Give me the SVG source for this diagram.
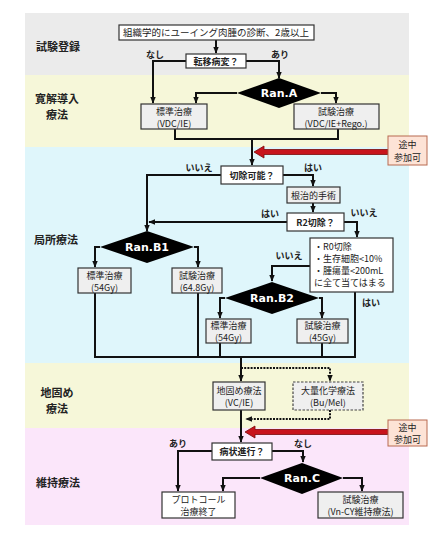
<svg xmlns="http://www.w3.org/2000/svg" width="436" height="539" viewBox="0 0 436 539">
<defs>
<style>
text{font-family:"Noto Sans CJK JP","Liberation Sans",sans-serif;fill:#222;}
.t{font-size:9px;text-anchor:middle;}
.tl{font-size:9px;text-anchor:start;}
.b{font-size:9px;font-weight:bold;text-anchor:middle;}
.lab{font-size:11px;font-weight:bold;text-anchor:middle;}
.ran{font-size:11px;font-weight:bold;fill:#fff;text-anchor:middle;font-family:"DejaVu Sans","Noto Sans CJK JP",sans-serif;}
.bx{fill:#fff;stroke:#333;stroke-width:1.2;}
.gb{fill:#efefef;stroke:#333;stroke-width:1.2;}
.db{fill:#efefef;stroke:#444;stroke-width:1.2;stroke-dasharray:2.5 1.5;}
.dia{fill:#000;}
.c{fill:none;stroke:#111;stroke-width:2;}
.ca{fill:none;stroke:#111;stroke-width:2;marker-end:url(#ah);}
.da{fill:none;stroke:#111;stroke-width:2;stroke-dasharray:2 1.2;marker-end:url(#ah);}
.red{fill:#c8141c;stroke:#7a0a0a;stroke-width:0.8;}
.jb{fill:#fde3d6;stroke:#b86a50;stroke-width:1;}
</style>
<marker id="ah" viewBox="0 0 10 10" refX="9" refY="5" markerUnits="userSpaceOnUse" markerWidth="7" markerHeight="7" orient="auto">
<path d="M0,1 L10,5 L0,9 z" fill="#111"/>
</marker>
</defs>

<g id="bands">
<rect x="25" y="13" width="384" height="62" fill="#ebebeb"/>
<rect x="25" y="75" width="384" height="72" fill="#f6f7d9"/>
<rect x="25" y="147" width="384" height="216" fill="#dff6fb"/>
<rect x="25" y="363" width="384" height="65" fill="#f6f7d9"/>
<rect x="25" y="428" width="384" height="97" fill="#fbe6fa"/>
<text class="lab" x="58" y="51">試験登録</text>
<text class="lab" x="57" y="103">寛解導入</text>
<text class="lab" x="57" y="119">療法</text>
<text class="lab" x="56" y="244">局所療法</text>
<text class="lab" x="57" y="397">地固め</text>
<text class="lab" x="57" y="413">療法</text>
<text class="lab" x="58" y="487">維持療法</text>
</g>

<g id="connectors">
<path class="ca" d="M216,40 V53"/>
<path class="ca" d="M186,61 H153 V103"/>
<path class="ca" d="M246,61 H279 V78"/>
<path class="ca" d="M237,93 H196 V103"/>
<path class="ca" d="M321,93 H336 V103"/>
<path class="c" d="M175,129 V139 H338 V129"/>
<path class="ca" d="M252,139 V165"/>
<path class="ca" d="M221,175 H147 V231"/>
<path class="ca" d="M283,175 H313 V186"/>
<path class="ca" d="M313,203 V212"/>
<path class="ca" d="M287,222 H149"/>
<path class="ca" d="M344,222 H357 V237"/>
<path class="ca" d="M100,247 H95 V267"/>
<path class="ca" d="M194,247 H198 V267"/>
<path class="c" d="M95,293 V357 H355 V292"/>
<path class="c" d="M198,293 V357"/>
<path class="ca" d="M310,266 H272 V281"/>
<path class="ca" d="M225,298 H220 V318"/>
<path class="ca" d="M319,298 H322 V318"/>
<path class="c" d="M220,343 V357"/>
<path class="c" d="M322,343 V357"/>
<path class="ca" d="M241,357 V381"/>
<path class="da" d="M241,368 H330 V381"/>
<path class="ca" d="M241,410 V442"/>
<path class="da" d="M330,410 V419 H246"/>
<path class="ca" d="M212,451 H178 V491"/>
<path class="ca" d="M272,451 H303 V462"/>
<path class="ca" d="M260,478 H223 V491"/>
<path class="ca" d="M343,478 H362 V491"/>
<polygon class="red" points="388,149.5 264,149.5 264,146 254,152 264,158 264,154.5 388,154.5"/>
<polygon class="red" points="388,429.5 255,429.5 255,426 245,432 255,438 255,434.5 388,434.5"/>
<text class="b" x="155" y="58">なし</text>
<text class="b" x="280" y="58">あり</text>
<text class="b" x="199" y="171">いいえ</text>
<text class="b" x="313" y="171">はい</text>
<text class="b" x="270" y="217">はい</text>
<text class="b" x="364" y="216">いいえ</text>
<text class="b" x="289" y="259">いいえ</text>
<text class="b" x="371" y="306">はい</text>
<text class="b" x="178" y="447">あり</text>
<text class="b" x="303" y="447">なし</text>
</g>

<g id="n_entry">
<rect class="bx" x="119" y="25" width="195" height="15"/>
<text class="t" x="216" y="36" style="font-size:9.5px">組織学的にユーイング肉腫の診断、2歳以上</text>
</g>
<g id="n_meta">
<rect class="bx" x="186" y="54" width="60" height="14"/>
<text class="b" x="216" y="64.5">転移病変？</text>
</g>
<g id="n_ranA">
<polygon class="dia" points="279,78 321,93 279,108 237,93"/>
<text class="ran" x="279" y="97">Ran.A</text>
</g>
<g id="n_indStd">
<rect class="gb" x="141" y="104" width="66" height="25"/>
<text class="t" x="174" y="114.5">標準治療</text>
<text class="t" x="174" y="126.5">(VDC/IE)</text>
</g>
<g id="n_indExp">
<rect class="gb" x="294" y="104" width="85" height="25"/>
<text class="t" x="336" y="114.5">試験治療</text>
<text class="t" x="336" y="126.5">(VDC/IE+Rego.)</text>
</g>
<g id="n_join1">
<rect class="jb" x="388" y="136" width="39" height="29"/>
<text class="t" x="407.5" y="148">途中</text>
<text class="t" x="407.5" y="160.5">参加可</text>
</g>
<g id="n_resect">
<rect class="bx" x="221" y="166" width="62" height="18"/>
<text class="b" x="252" y="178.5">切除可能？</text>
</g>
<g id="n_surg">
<rect class="gb" x="287" y="187" width="53" height="16"/>
<text class="t" x="313.5" y="198.5">根治的手術</text>
</g>
<g id="n_r2">
<rect class="bx" x="287" y="213" width="57" height="18"/>
<text class="b" x="315.5" y="225.5">R2切除？</text>
</g>
<g id="n_r0">
<rect class="bx" x="310" y="238" width="83" height="54"/>
<text class="tl" x="314" y="250">・R0切除</text>
<text class="tl" x="314" y="262">・生存細胞&lt;10%</text>
<text class="tl" x="314" y="274">・腫瘍量&lt;200mL</text>
<text class="tl" x="314" y="286">に全て当てはまる</text>
</g>
<g id="n_ranB1">
<polygon class="dia" points="147,231 194,247 147,263 100,247"/>
<text class="ran" x="147" y="251">Ran.B1</text>
</g>
<g id="n_b1Std">
<rect class="gb" x="78" y="268" width="53" height="25"/>
<text class="t" x="104.5" y="278.5">標準治療</text>
<text class="t" x="104.5" y="290.5">(54Gy)</text>
</g>
<g id="n_b1Exp">
<rect class="gb" x="172" y="268" width="50" height="25"/>
<text class="t" x="197" y="278.5">試験治療</text>
<text class="t" x="197" y="290.5">(64.8Gy)</text>
</g>
<g id="n_ranB2">
<polygon class="dia" points="272,282 319,298 272,314 225,298"/>
<text class="ran" x="272" y="302">Ran.B2</text>
</g>
<g id="n_b2Std">
<rect class="gb" x="206" y="319" width="45" height="24"/>
<text class="t" x="228.5" y="329">標準治療</text>
<text class="t" x="228.5" y="341">(54Gy)</text>
</g>
<g id="n_b2Exp">
<rect class="gb" x="297" y="319" width="51" height="24"/>
<text class="t" x="322.5" y="329">試験治療</text>
<text class="t" x="322.5" y="341">(45Gy)</text>
</g>
<g id="n_consol">
<rect class="gb" x="213" y="382" width="52" height="28"/>
<text class="t" x="239" y="393.5">地固め療法</text>
<text class="t" x="239" y="406">(VC/IE)</text>
</g>
<g id="n_hdc">
<rect class="db" x="293" y="382" width="70" height="28"/>
<text class="t" x="328" y="393.5">大量化学療法</text>
<text class="t" x="328" y="406">(Bu/Mel)</text>
</g>
<g id="n_join2">
<rect class="jb" x="388" y="420" width="39" height="26"/>
<text class="t" x="407.5" y="430.5">途中</text>
<text class="t" x="407.5" y="443">参加可</text>
</g>
<g id="n_prog">
<rect class="bx" x="212" y="443" width="60" height="17"/>
<text class="b" x="242" y="455">病状進行？</text>
</g>
<g id="n_ranC">
<polygon class="dia" points="302,463 343,478 302,494 260,478"/>
<text class="ran" x="302" y="482">Ran.C</text>
</g>
<g id="n_end">
<rect class="bx" x="162" y="492" width="73" height="26"/>
<text class="t" x="198.5" y="503">プロトコール</text>
<text class="t" x="198.5" y="515">治療終了</text>
</g>
<g id="n_maint">
<rect class="gb" x="318" y="492" width="85" height="26"/>
<text class="t" x="360.5" y="503">試験治療</text>
<text class="t" x="360.5" y="515">(Vn-CY維持療法)</text>
</g>
</svg>
